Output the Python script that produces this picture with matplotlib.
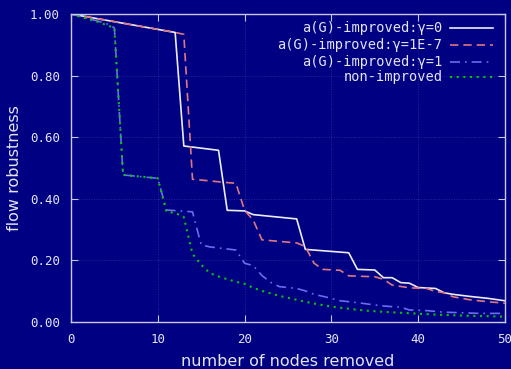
import matplotlib
matplotlib.use("Agg")
import matplotlib.pyplot as plt

# series (vertices of each curve)
g0_x = [0, 12, 13, 17, 18, 20, 21, 26, 27, 32, 33, 35, 36, 37, 38, 39, 40, 42, 43, 44, 46, 48, 50]
g0_y = [1.0, 0.94, 0.571, 0.557, 0.362, 0.360, 0.348, 0.334, 0.235, 0.224, 0.170, 0.168, 0.143,
        0.143, 0.127, 0.125, 0.111, 0.108, 0.094, 0.089, 0.082, 0.076, 0.068]

g7_x = [0, 12, 13, 14, 18, 19, 20, 21, 22, 26, 27, 28, 29, 31, 32, 35, 36, 37, 39, 41, 42, 43,
        44, 46, 48, 50]
g7_y = [1.0, 0.94, 0.934, 0.463, 0.452, 0.45, 0.362, 0.33, 0.266, 0.256, 0.244, 0.19, 0.17,
        0.167, 0.149, 0.146, 0.138, 0.119, 0.110, 0.108, 0.098, 0.094, 0.081, 0.071, 0.065, 0.060]

g1_x = [0, 4, 5, 6, 10, 11, 14, 15, 16, 19, 20, 21, 22, 23, 24, 26, 27, 28, 30, 31, 33, 34,
        36, 38, 39, 41, 43, 45, 47, 50]
g1_y = [1.0, 0.97, 0.955, 0.477, 0.466, 0.363, 0.357, 0.25, 0.243, 0.233, 0.19, 0.182, 0.15,
        0.128, 0.114, 0.108, 0.1, 0.089, 0.076, 0.068, 0.062, 0.058, 0.051, 0.047, 0.038, 0.036,
        0.031, 0.029, 0.027, 0.027]

ni_x = [0, 3, 4, 5, 6, 10, 11, 12, 13, 14, 15, 16, 17, 18, 19, 20, 21, 22, 24, 26, 28, 30,
        32, 34, 36, 38, 40, 42, 44, 46, 48, 50]
ni_y = [1.0, 0.975, 0.965, 0.955, 0.477, 0.466, 0.357, 0.354, 0.34, 0.22, 0.185, 0.158, 0.147,
        0.138, 0.13, 0.123, 0.11, 0.10, 0.084, 0.071, 0.059, 0.049, 0.042, 0.036, 0.032, 0.029,
        0.026, 0.023, 0.021, 0.019, 0.018, 0.016]

labels = ["a(G)-improved:γ=0", "a(G)-improved:γ=1E-7", "a(G)-improved:γ=1", "non-improved"]
x_ticks = [0, 10, 20, 30, 40, 50]
y_ticks = [0.0, 0.2, 0.4, 0.6, 0.8, 1.0]

bg = "#000082"
fg = "#c8c8e6"
txt = "#e4e4f4"

fig = plt.figure(figsize=(5.11, 3.69), dpi=100, facecolor=bg)
ax = fig.add_axes([0.1389, 0.1282, 0.8493, 0.8339], facecolor=bg)

styles = [
    dict(color="#ececf8", lw=1.2, ls="-"),
    dict(color="#e07880", lw=1.2, ls=(0, (5, 3))),
    dict(color="#6c6cf0", lw=1.2, ls=(0, (6, 3, 1, 3))),
    dict(color="#00c800", lw=1.5, ls=(0, (1, 2.2))),
]
series = [(g0_x, g0_y), (g7_x, g7_y), (g1_x, g1_y), (ni_x, ni_y)]
for (xs, ys), st in zip(series, styles):
    ax.plot(xs, ys, **st)

ax.set_xlim(0, 50)
ax.set_ylim(0, 1)
ax.set_xticks(x_ticks)
ax.set_yticks(y_ticks)
ax.set_yticklabels([f"{v:.2f}" for v in y_ticks])
ax.grid(True, color="#3232a0", lw=0.6, ls=(0, (1, 2)))
ax.tick_params(direction="in", top=True, right=True, length=5, color=fg,
               labelcolor=txt, labelsize=9, pad=8)
for lab in ax.get_xticklabels() + ax.get_yticklabels():
    lab.set_family("DejaVu Sans Mono")
for sp in ax.spines.values():
    sp.set_color(fg)
    sp.set_linewidth(1.0)

ax.set_xlabel("number of nodes removed", color=txt, fontsize=11.5, labelpad=6)
ax.set_ylabel("flow robustness", color=txt, fontsize=11.5, labelpad=6)

# gnuplot-style key: right-aligned text, sample to the right
key_y = [0.953, 0.900, 0.845, 0.796]
for lab, st, yk in zip(labels, styles, key_y):
    ax.text(0.856, yk, lab, transform=ax.transAxes, ha="right", va="center",
            color=txt, fontsize=9.8, family="DejaVu Sans Mono")
    ax.plot([0.873, 0.972], [yk, yk], transform=ax.transAxes, **st)

fig.savefig("out.png", dpi=100, facecolor=bg)
